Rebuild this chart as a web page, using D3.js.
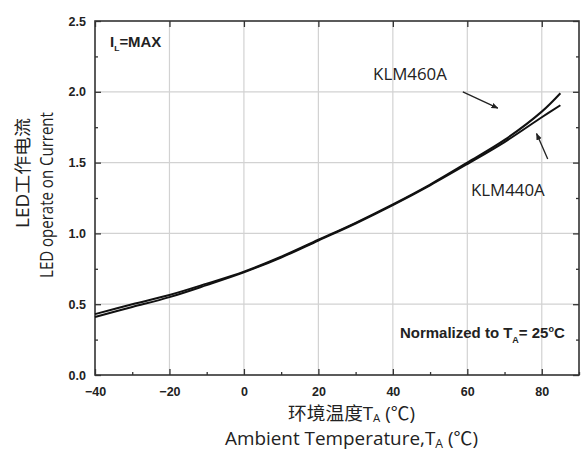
<!DOCTYPE html>
<html>
<head>
<meta charset="utf-8">
<script src="https://cdn.jsdelivr.net/npm/d3@7"></script>
<style>
  html, body { margin: 0; padding: 0; background: #fff; }
  svg { display: block; }
</style>
</head>
<body>
<div id="chart"></div>
<script>
// Ambient temperature (°C) at which the curves are sampled
const temps = [-40, -30, -20, -10, 0, 10, 20, 30, 40, 50, 60, 70, 80, 85];
// Relative operating current, normalized to 25°C
const klm460a = [0.43, 0.50, 0.565, 0.645, 0.73, 0.835, 0.955, 1.075, 1.205, 1.345, 1.50, 1.66, 1.86, 1.99];
const klm440a = [0.41, 0.48, 0.55, 0.635, 0.725, 0.83, 0.95, 1.07, 1.20, 1.34, 1.49, 1.645, 1.82, 1.905];
const seriesNames = ["KLM460A", "KLM440A"];

const xTicks = [-40, -20, 0, 20, 40, 60, 80];
const xMinorTicks = [-30, -10, 10, 30, 50, 70, 90];
const yTicks = [0.0, 0.5, 1.0, 1.5, 2.0, 2.5];
const yMinorTicks = [0.25, 0.75, 1.25, 1.75, 2.25];

const W = 582, H = 453;
const svg = d3.select("#chart").append("svg").attr("width", W).attr("height", H);

const x = d3.scaleLinear().domain([-40, 90]).range([95, 579]);
const y = d3.scaleLinear().domain([0, 2.5]).range([375, 21]);
const [x0, x1] = x.range();
const [y0, y1] = y.range();

const gridColor = "#d2d2d2";
const axisColor = "#333";
const ink = "#222";
const tickFont = "'Liberation Sans', Arial, sans-serif";
const labelFont = "'Open Sans', 'Noto Sans CJK SC', sans-serif";

// Text placed in a group at (cx, cy), optionally rotated, and stretched along
// its run so that it spans `width` pixels.
function fittedText(cx, cy, width, opts) {
  const g = svg.append("g")
    .attr("transform", `translate(${cx},${cy})` + (opts.rotate ? ` rotate(${opts.rotate})` : ""));
  const t = g.append("text").attr("x", 0).attr("y", 0)
    .attr("text-anchor", opts.anchor || "middle")
    .attr("font-family", opts.font).attr("font-size", opts.size)
    .attr("font-weight", opts.weight || "normal").attr("fill", ink);
  opts.parts.forEach(p => {
    const s = t.append("tspan").text(p.text);
    if (p.size) s.attr("font-size", p.size);
    if (p.dy) s.attr("dy", p.dy);
  });
  const w = t.node().getBBox().width;
  if (w > 0) t.attr("transform", `scale(${width / w},1)`);
  return t;
}

// grid
const grid = svg.append("g");
grid.selectAll("line.vx").data(xTicks.slice(1)).join("line")
  .attr("x1", d => x(d)).attr("x2", d => x(d)).attr("y1", y0).attr("y2", y1)
  .attr("stroke", gridColor).attr("stroke-width", 1.2);
grid.selectAll("line.hy").data(yTicks.slice(1, -1)).join("line")
  .attr("x1", x0).attr("x2", x1).attr("y1", d => y(d)).attr("y2", d => y(d))
  .attr("stroke", gridColor).attr("stroke-width", 1.2);

// axes: ticks inward on all four sides
const axBottom = svg.append("g").attr("transform", `translate(0,${y0})`)
  .call(d3.axisBottom(x).tickValues(xTicks).tickSizeInner(-6).tickSizeOuter(0).tickPadding(12).tickFormat(d3.format("d")));
const axBottomMinor = svg.append("g").attr("transform", `translate(0,${y0})`)
  .call(d3.axisBottom(x).tickValues(xMinorTicks).tickSizeInner(-3).tickSizeOuter(0).tickFormat(""));
const axTop = svg.append("g").attr("transform", `translate(0,${y1})`)
  .call(d3.axisTop(x).tickValues(xTicks).tickSizeInner(-6).tickSizeOuter(0).tickFormat(""));
const axLeft = svg.append("g").attr("transform", `translate(${x0},0)`)
  .call(d3.axisLeft(y).tickValues(yTicks).tickSizeInner(-6).tickSizeOuter(0).tickPadding(9).tickFormat(d3.format(".1f")));
const axLeftMinor = svg.append("g").attr("transform", `translate(${x0},0)`)
  .call(d3.axisLeft(y).tickValues(yMinorTicks).tickSizeInner(-3).tickSizeOuter(0).tickFormat(""));
const axRight = svg.append("g").attr("transform", `translate(${x1},0)`)
  .call(d3.axisRight(y).tickValues(yTicks).tickSizeInner(-6).tickSizeOuter(0).tickFormat(""));
const axRightMinor = svg.append("g").attr("transform", `translate(${x1},0)`)
  .call(d3.axisRight(y).tickValues(yMinorTicks).tickSizeInner(-3).tickSizeOuter(0).tickFormat(""));

[axBottom, axBottomMinor, axTop, axLeft, axLeftMinor, axRight, axRightMinor].forEach(g => {
  g.select(".domain").remove();
  g.selectAll(".tick line").attr("stroke", axisColor).attr("stroke-width", 1.3);
  g.selectAll("text").attr("font-family", tickFont).attr("font-weight", "bold")
    .attr("font-size", 12.5).attr("fill", ink);
});

// frame
svg.append("rect").attr("x", x0).attr("y", y1).attr("width", x1 - x0).attr("height", y0 - y1)
  .attr("fill", "none").attr("stroke", axisColor).attr("stroke-width", 1.6);

// curves
const line = d3.line().x(d => x(d[0])).y(d => y(d[1])).curve(d3.curveCatmullRom.alpha(0.5));
[klm460a, klm440a].forEach(vals => {
  svg.append("path").datum(temps.map((t, i) => [t, vals[i]]))
    .attr("d", line).attr("fill", "none").attr("stroke", "#111").attr("stroke-width", 2);
});

// series annotations with arrows
const defs = svg.append("defs");
defs.append("marker").attr("id", "arr").attr("viewBox", "0 0 10 10")
  .attr("refX", 9).attr("refY", 5).attr("markerWidth", 7).attr("markerHeight", 7)
  .attr("orient", "auto").attr("markerUnits", "userSpaceOnUse")
  .append("path").attr("d", "M0,1 L10,5 L0,9 z").attr("fill", ink);

const notes = [
  { name: seriesNames[0], tx: 44.6, ty: 2.083, from: [58.8, 2.00], to: [68.2, 1.885] },
  { name: seriesNames[1], tx: 70.9, ty: 1.264, from: [81.6, 1.525], to: [78.6, 1.705] }
];
notes.forEach(n => {
  fittedText(x(n.tx), y(n.ty), 74, { font: labelFont, size: 15.5, parts: [{ text: n.name }] });
  svg.append("line").attr("x1", x(n.from[0])).attr("y1", y(n.from[1]))
    .attr("x2", x(n.to[0])).attr("y2", y(n.to[1]))
    .attr("stroke", ink).attr("stroke-width", 1.3).attr("marker-end", "url(#arr)");
});

// condition labels
fittedText(110, 47, 52, {
  font: tickFont, size: 14, weight: "bold", anchor: "start",
  parts: [{ text: "I" }, { text: "L", size: 8, dy: 4 }, { text: "=MAX", dy: -4 }]
});
fittedText(400, 338, 165, {
  font: tickFont, size: 15, weight: "bold", anchor: "start",
  parts: [{ text: "Normalized to T" }, { text: "A", size: 9, dy: 5 }, { text: "= 25", dy: -5 },
          { text: "o", size: 9, dy: -6 }, { text: "C", dy: 6 }]
});

// axis titles
fittedText(351.5, 420, 127, {
  font: labelFont, size: 18,
  parts: [{ text: "环境温度T" }, { text: "A", size: 11, dy: 2 }, { text: " (℃)", dy: -2 }]
});
fittedText(351.5, 445, 253, {
  font: labelFont, size: 18.5,
  parts: [{ text: "Ambient Temperature,T" }, { text: "A", size: 12, dy: 3 }, { text: " (℃)", dy: -3 }]
});
fittedText(29, 173, 110, { font: labelFont, size: 17.5, rotate: -90, parts: [{ text: "LED工作电流" }] });
fittedText(53, 195, 166, { font: labelFont, size: 17.5, rotate: -90, parts: [{ text: "LED operate on Current" }] });
</script>
</body>
</html>
